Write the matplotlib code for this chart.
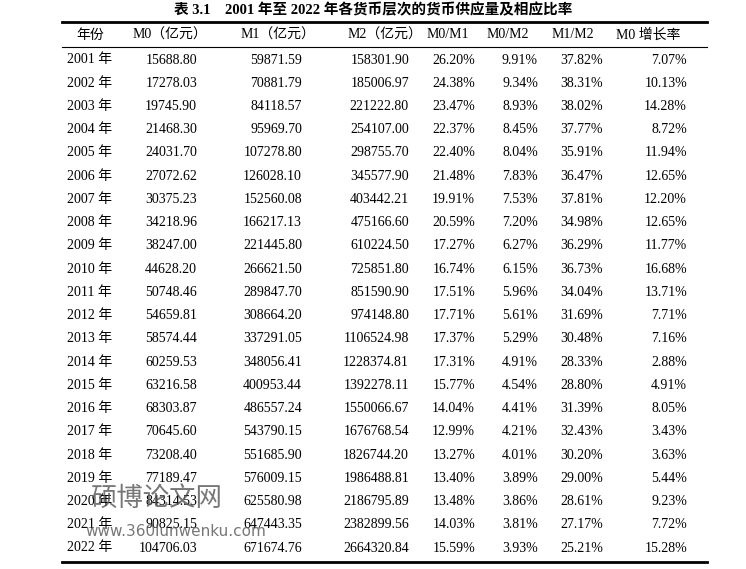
import matplotlib
matplotlib.use("Agg")
import matplotlib.pyplot as plt
from matplotlib.lines import Line2D

years = [f"{y} 年" for y in range(2001, 2023)]
m0 = ["15688.80","17278.03","19745.90","21468.30","24031.70","27072.62","30375.23","34218.96","38247.00","44628.20","50748.46","54659.81","58574.44","60259.53","63216.58","68303.87","70645.60","73208.40","77189.47","84314.53","90825.15","104706.03"]
m1 = ["59871.59","70881.79","84118.57","95969.70","107278.80","126028.10","152560.08","166217.13","221445.80","266621.50","289847.70","308664.20","337291.05","348056.41","400953.44","486557.24","543790.15","551685.90","576009.15","625580.98","647443.35","671674.76"]
m2 = ["158301.90","185006.97","221222.80","254107.00","298755.70","345577.90","403442.21","475166.60","610224.50","725851.80","851590.90","974148.80","1106524.98","1228374.81","1392278.11","1550066.67","1676768.54","1826744.20","1986488.81","2186795.89","2382899.56","2664320.84"]
m0m1 = ["26.20%","24.38%","23.47%","22.37%","22.40%","21.48%","19.91%","20.59%","17.27%","16.74%","17.51%","17.71%","17.37%","17.31%","15.77%","14.04%","12.99%","13.27%","13.40%","13.48%","14.03%","15.59%"]
m0m2 = ["9.91%","9.34%","8.93%","8.45%","8.04%","7.83%","7.53%","7.20%","6.27%","6.15%","5.96%","5.61%","5.29%","4.91%","4.54%","4.41%","4.21%","4.01%","3.89%","3.86%","3.81%","3.93%"]
m1m2 = ["37.82%","38.31%","38.02%","37.77%","35.91%","36.47%","37.81%","34.98%","36.29%","36.73%","34.04%","31.69%","30.48%","28.33%","28.80%","31.39%","32.43%","30.20%","29.00%","28.61%","27.17%","25.21%"]
m0g = ["7.07%","10.13%","14.28%","8.72%","11.94%","12.65%","12.20%","12.65%","11.77%","16.68%","13.71%","7.71%","7.16%","2.88%","4.91%","8.05%","3.43%","3.63%","5.44%","9.23%","7.72%","15.28%"]
headers = ["年份","M0（亿元）","M1（亿元）","M2（亿元）","M0/M1","M0/M2","M1/M2","M0 增长率"]

W, H = 746, 569
fig = plt.figure(figsize=(W/100, H/100), dpi=100)
fam = ["Liberation Serif", "Noto Sans CJK SC"]

def px(x, y):
    return x / W, 1 - y / H

def txt(x, y, s, ha="left", fs=10, **kw):
    fig.text(*px(x, y), s, ha=ha, va="center", fontsize=fs, family=fam, **kw)

txt(373, 10, "表 3.1    2001 年至 2022 年各货币层次的货币供应量及相应比率", ha="center", fontweight="bold", fs=10.5)

for y, lw in [(22, 2), (47, 0.8), (562, 2)]:
    fig.add_artist(Line2D([62/W, 707/W], [1-y/H]*2, color="black", lw=lw))

hx = [90, 170, 278, 385, 448, 508, 573, 648]
for x, h in zip(hx, headers):
    txt(x, 35, h, ha="center")

cols = [m0, m1, m2, m0m1, m0m2, m1m2, m0g]
rx = [197, 302, 409, 475, 538, 603, 687]
y0, dy = 60, (548 - 60) / 21
for i in range(len(years)):
    y = y0 + i * dy
    txt(67, y, years[i])
    for x, c in zip(rx, cols):
        txt(x, y, c[i], ha="right")

fig.text(*px(90, 498), "硕博论文网", fontsize=19, color="#555555", alpha=0.8, family=["Noto Sans CJK SC"], va="center")
fig.text(*px(85, 531), "www.360lunwenku.com", fontsize=11, color="#555555", alpha=0.8, family=["DejaVu Sans"], va="center")

fig.savefig("out.png", dpi=100)
